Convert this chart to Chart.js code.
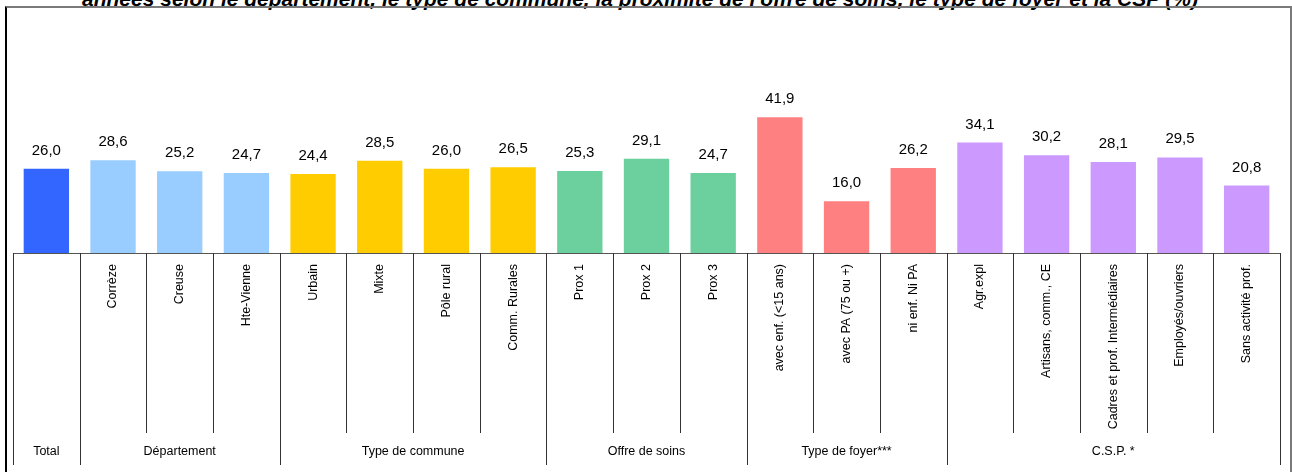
<!DOCTYPE html>
<html lang="fr">
<head>
<meta charset="utf-8">
<script src="https://cdn.jsdelivr.net/npm/chart.js@4"></script>
<style>
  html, body { margin: 0; padding: 0; background: #fff; overflow: hidden; }
  body { width: 1292px; height: 472px; position: relative; font-family: "Liberation Sans", Arial, sans-serif; }
  #titre {
    position: absolute; left: 0; width: 1280px; top: -12px;
    text-align: center; font-size: 21px; line-height: 21px;
    font-weight: bold; font-style: italic; white-space: nowrap; color: #000;
  }
  #cadre {
    position: absolute; left: 5px; top: 6px; width: 1283px; height: 470px;
    border-left: 2px solid #000; border-top: 2px solid #7a7a7a; border-right: 2px solid #7a7a7a;
  }
  #graph { position: absolute; left: 0; top: 0; }
</style>
</head>
<body>
<div id="titre">années selon le département, le type de commune, la proximité de l'offre de soins, le type de foyer et la CSP (%)</div>
<div id="cadre"></div>
<canvas id="graph" width="1292" height="472"></canvas>

<script>
// modalités et pourcentages
const categories = ['Total', 'Corrèze', 'Creuse', 'Hte-Vienne', 'Urbain', 'Mixte', 'Pôle rural', 'Comm. Rurales',
  'Prox 1', 'Prox 2', 'Prox 3', 'avec enf. (<15 ans)', 'avec PA (75 ou +)', 'ni enf. Ni PA',
  'Agr.expl', 'Artisans, comm., CE', 'Cadres et prof. Intermédiaires', 'Employés/ouvriers', 'Sans activité prof.'];
const values = [26.0, 28.6, 25.2, 24.7, 24.4, 28.5, 26.0, 26.5, 25.3, 29.1, 24.7, 41.9, 16.0, 26.2, 34.1, 30.2, 28.1, 29.5, 20.8];

// regroupements sous l'axe
const groupNames = ['Total', 'Département', 'Type de commune', 'Offre de soins', 'Type de foyer***', 'C.S.P. *'];
const groupSizes = [1, 3, 4, 3, 3, 5];
const groupColors = ['#3366FF', '#99CCFF', '#FFCC00', '#6CCF9E', '#FF8080', '#CC99FF'];

var barColors = [];
groupSizes.forEach(function (n, g) {
  for (var k = 0; k < n; k++) barColors.push(groupColors[g]);
});

var police = '"Liberation Sans", Arial, sans-serif';

function fmt(v) {
  return v.toFixed(1).replace('.', ',');
}

// valeurs au-dessus des barres
var etiquettes = {
  id: 'etiquettes',
  afterDatasetsDraw: function (chart) {
    var ctx = chart.ctx;
    var meta = chart.getDatasetMeta(0);
    ctx.save();
    ctx.font = '15px ' + police;
    ctx.fillStyle = '#000';
    ctx.textAlign = 'center';
    ctx.textBaseline = 'alphabetic';
    meta.data.forEach(function (bar, i) {
      ctx.fillText(fmt(values[i]), bar.x, bar.y - 14);
    });
    ctx.restore();
  }
};

// séparateurs et libellés de groupes
var groupes = {
  id: 'groupes',
  afterDraw: function (chart) {
    var ctx = chart.ctx;
    var x = chart.scales.x;
    var y0 = chart.chartArea.bottom;
    var w = x.getPixelForValue(1) - x.getPixelForValue(0);
    var bords = [0];
    groupSizes.reduce(function (acc, n) { bords.push(acc + n); return acc + n; }, 0);

    ctx.save();
    ctx.strokeStyle = '#333';
    ctx.lineWidth = 1;
    for (var i = 0; i <= categories.length; i++) {
      var px = Math.round(x.getPixelForValue(i) - w / 2) + 0.5;
      var bas = bords.indexOf(i) >= 0 ? 465 : 433;
      ctx.beginPath();
      ctx.moveTo(px, y0);
      ctx.lineTo(px, bas);
      ctx.stroke();
    }

    ctx.font = '12.5px ' + police;
    ctx.fillStyle = '#000';
    ctx.textAlign = 'center';
    ctx.textBaseline = 'middle';
    for (var g = 0; g < groupNames.length; g++) {
      var a = x.getPixelForValue(bords[g]) - w / 2;
      var b = x.getPixelForValue(bords[g + 1]) - w / 2;
      ctx.fillText(groupNames[g], (a + b) / 2, 452);
    }
    ctx.restore();
  }
};

var graph = new Chart(document.getElementById('graph'), {
  type: 'bar',
  data: {
    labels: categories,
    datasets: [{
      label: '',
      data: values,
      backgroundColor: barColors,
      borderWidth: 0,
      categoryPercentage: 1,
      barPercentage: 0.68
    }]
  },
  options: {
    responsive: false,
    animation: false,
    layout: {
      padding: { top: 91, left: 13, right: 12, bottom: 39 }
    },
    plugins: {
      legend: { display: false },
      tooltip: { enabled: false }
    },
    scales: {
      x: {
        grid: { display: false },
        border: { display: true, color: '#555', width: 1 },
        ticks: {
          autoSkip: false,
          minRotation: 90,
          maxRotation: 90,
          padding: 3,
          color: '#000',
          font: { family: police, size: 12.5 },
          // la colonne Total n'a que son libellé de groupe
          callback: function (val, i) { return i === 0 ? '' : categories[i]; }
        },
        afterFit: function (scale) { scale.height = 180; }
      },
      y: {
        display: false,
        min: 0,
        max: 50
      }
    }
  },
  plugins: [etiquettes, groupes]
});
</script>
</body>
</html>
